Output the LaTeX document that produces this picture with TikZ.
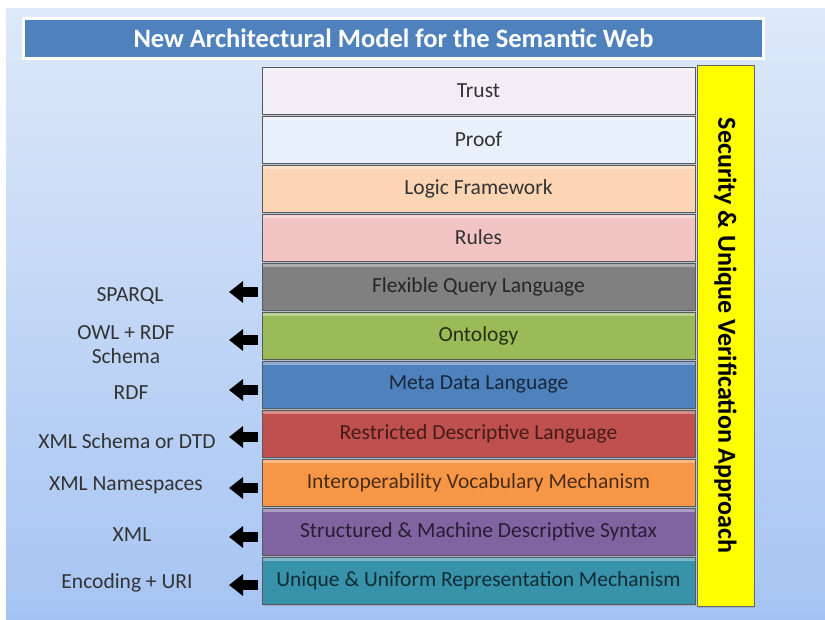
\documentclass[tikz,border=0pt]{standalone}
\usepackage{fontspec}
\setmainfont{Carlito}
\usetikzlibrary{arrows.meta,shadows}
\definecolor{bgtop}{RGB}{222,233,249}
\definecolor{bgbot}{RGB}{166,196,243}
\definecolor{titlefill}{RGB}{79,129,189}
\definecolor{cTrust}{RGB}{242,238,245}
\definecolor{cProof}{RGB}{232,241,251}
\definecolor{cLogic}{RGB}{252,213,181}
\definecolor{cRules}{RGB}{242,196,196}
\definecolor{cQuery}{RGB}{128,128,128}
\definecolor{cOnto}{RGB}{155,187,89}
\definecolor{cMeta}{RGB}{79,129,189}
\definecolor{cRestr}{RGB}{192,80,77}
\definecolor{cInter}{RGB}{247,150,70}
\definecolor{cStruct}{RGB}{128,100,162}
\definecolor{cUniq}{RGB}{56,146,170}
\definecolor{secyellow}{RGB}{255,255,0}
\tikzset{
  titlebar/.style={draw=white, line width=3pt, fill=titlefill, text=white,
    font=\fontsize{26.5}{30}\selectfont\bfseries, minimum width=740, minimum height=40,
    drop shadow={shadow xshift=1pt, shadow yshift=-1.5pt, opacity=0.35}},
  layer/.style={draw=black!65, line width=0.8pt, minimum width=433, minimum height=47,
    font=\fontsize{21.5}{24}\selectfont, inner sep=0pt,
    drop shadow={shadow xshift=1pt, shadow yshift=-1.5pt, opacity=0.3},
    path picture={\fill[white, opacity=0.35] (path picture bounding box.north west) rectangle ([yshift=-4pt]path picture bounding box.north east);}},
  secbar/.style={draw=black!60, line width=1pt, fill=secyellow, rotate=-90,
    minimum width=541, minimum height=57, font=\fontsize{26}{28}\selectfont\bfseries,
    drop shadow={shadow xshift=1pt, shadow yshift=-1.5pt, opacity=0.3}},
  techlabel/.style={font=\fontsize{21.5}{24}\selectfont, text=black!80, align=center, inner sep=0pt},
  blockarrow/.style={line width=10pt, line cap=butt, black, -{Triangle[length=14pt, width=21pt]}}
}
\begin{document}
\begin{tikzpicture}[x=1pt,y=-1pt]
\useasboundingbox (0,0) rectangle (825,619);
\fill[white] (0,0) rectangle (825,619);
\shade[top color=bgtop, bottom color=bgbot] (6,8) rectangle (825,619);

\node[titlebar] (title) at (393.5,38.5) {New Architectural Model for the Semantic Web};

\node[layer, fill=cTrust, text=black!80] (L1) at (478.5,90.5) {Trust};
\node[layer, fill=cProof, text=black!80] (L2) at (478.5,139.5) {Proof};
\node[layer, fill=cLogic, text=black!80] (L3) at (478.5,188.5) {Logic Framework};
\node[layer, fill=cRules, text=black!80] (L4) at (478.5,237.5) {Rules};
\node[layer, fill=cQuery, text=black!85] (L5) at (478.5,286.5) {Flexible Query Language};
\node[layer, fill=cOnto, text=cOnto!25!black] (L6) at (478.5,335.5) {Ontology};
\node[layer, fill=cMeta, text=cMeta!30!black] (L7) at (478.5,384.5) {Meta Data Language};
\node[layer, fill=cRestr, text=cRestr!35!black] (L8) at (478.5,433.5) {Restricted Descriptive Language};
\node[layer, fill=cInter, text=cInter!30!black] (L9) at (478.5,482.5) {Interoperability Vocabulary Mechanism};
\node[layer, fill=cStruct, text=cStruct!30!black] (L10) at (478.5,531.5) {Structured \& Machine Descriptive Syntax};
\node[layer, fill=cUniq, text=cUniq!30!black] (L11) at (478.5,580.5) {Unique \& Uniform Representation Mechanism};

\node[secbar] (sec) at (725.5,335.5) {Security \& Unique Verification Approach};

\node[techlabel] (t5) at (130,296) {SPARQL};
\node[techlabel] (t6) at (126,345) {OWL + RDF\\Schema};
\node[techlabel] (t7) at (131,393) {RDF};
\node[techlabel] (t8) at (127,441) {XML Schema or DTD};
\node[techlabel] (t9) at (126,485) {XML Namespaces};
\node[techlabel] (t10) at (132,535) {XML};
\node[techlabel] (t11) at (127,583) {Encoding + URI};

\foreach \i/\yy in {5/292,6/340,7/390,8/437,9/488,10/537,11/585}{
  \coordinate (s\i) at (258,\yy);
  \coordinate (e\i) at (229,\yy);
  \draw[blockarrow] (s\i) -- (e\i);
}
\end{tikzpicture}
\end{document}
